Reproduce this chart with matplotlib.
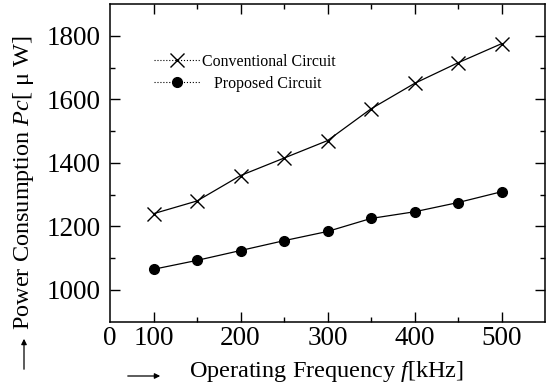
import matplotlib
matplotlib.use("Agg")
import matplotlib.pyplot as plt
from matplotlib.lines import Line2D
from matplotlib.ticker import FixedLocator

# data
freq = [100, 150, 200, 250, 300, 350, 400, 450, 500]
conventional = [1240, 1280, 1360, 1415, 1470, 1570, 1650, 1715, 1775]
proposed = [1065, 1093, 1124, 1155, 1184, 1225, 1246, 1275, 1309]

xticks = [50, 100, 200, 300, 400, 500]
xticklabels = ["0", "100", "200", "300", "400", "500"]
xminor = [150, 250, 350, 450]
yticks = [1000, 1200, 1400, 1600, 1800]
yminor = [1100, 1300, 1500, 1700]

plt.rcParams["font.family"] = ["Liberation Serif", "DejaVu Serif"]
plt.rcParams["mathtext.fontset"] = "custom"
plt.rcParams["mathtext.rm"] = "Liberation Serif"
plt.rcParams["mathtext.it"] = "Liberation Serif:italic"

W, H = 548, 387
fig = plt.figure(figsize=(W / 100, H / 100), dpi=100)
ax = fig.add_axes([110 / W, (H - 321.7) / H, 435 / W, 317.7 / H])

ax.plot(freq, conventional, color="black", lw=0.9, marker="x", ms=10, mew=1.0)
ax.plot(freq, proposed, color="black", lw=0.9, marker="o", ms=7)

ax.set_xlim(50, 550)
ax.set_ylim(900, 1900)

ax.set_xticks(xticks)
ax.set_xticklabels(xticklabels)
ax.xaxis.set_minor_locator(FixedLocator(xminor))
ax.set_yticks(yticks)
ax.yaxis.set_minor_locator(FixedLocator(yminor))
ax.tick_params(which="both", direction="in", top=True, right=True, width=1.0)
ax.tick_params(which="major", length=7, labelsize=19.5, pad=3)
ax.tick_params(axis="y", which="major", pad=7)
ax.tick_params(which="minor", length=3.5)
ax.xaxis.get_major_ticks()[0].tick1line.set_visible(False)
ax.xaxis.get_major_ticks()[0].tick2line.set_visible(False)
for s in ax.spines.values():
    s.set_linewidth(1.1)

# axis labels with little arrows
fig.text(326.5 / W, 1 - 372 / H, "Operating Frequency $f$[kHz]", fontsize=17.5,
         ha="center", va="center")
fig.text(24 / W, 1 - 183 / H, "Power Consumption $Pc$[ μ W]", fontsize=17.5,
         ha="center", va="center", rotation=90)
ax.annotate("", xy=(163 / W, 1 - 376 / H), xytext=(125 / W, 1 - 376 / H),
            xycoords="figure fraction", textcoords="figure fraction",
            arrowprops=dict(arrowstyle="-|>", lw=0.9, color="black", mutation_scale=8))
ax.annotate("", xy=(24 / W, 1 - 336 / H), xytext=(24 / W, 1 - 372 / H),
            xycoords="figure fraction", textcoords="figure fraction",
            arrowprops=dict(arrowstyle="-|>", lw=0.9, color="black", mutation_scale=8))

handles = [
    Line2D([], [], color="black", lw=0.8, ls=":", marker="x", ms=10, mew=1.0),
    Line2D([], [], color="black", lw=0.8, ls=":", marker="o", ms=7),
]
ax.legend(handles, ["Conventional Circuit", "   Proposed Circuit"],
          loc="upper left", bbox_to_anchor=((154 - 110) / 435, (321.7 - 54) / 317.7),
          frameon=False, fontsize=11.4, borderpad=0, borderaxespad=0,
          handlelength=2.9, handletextpad=0.15, labelspacing=0.38)

fig.savefig("out.png", dpi=100)
